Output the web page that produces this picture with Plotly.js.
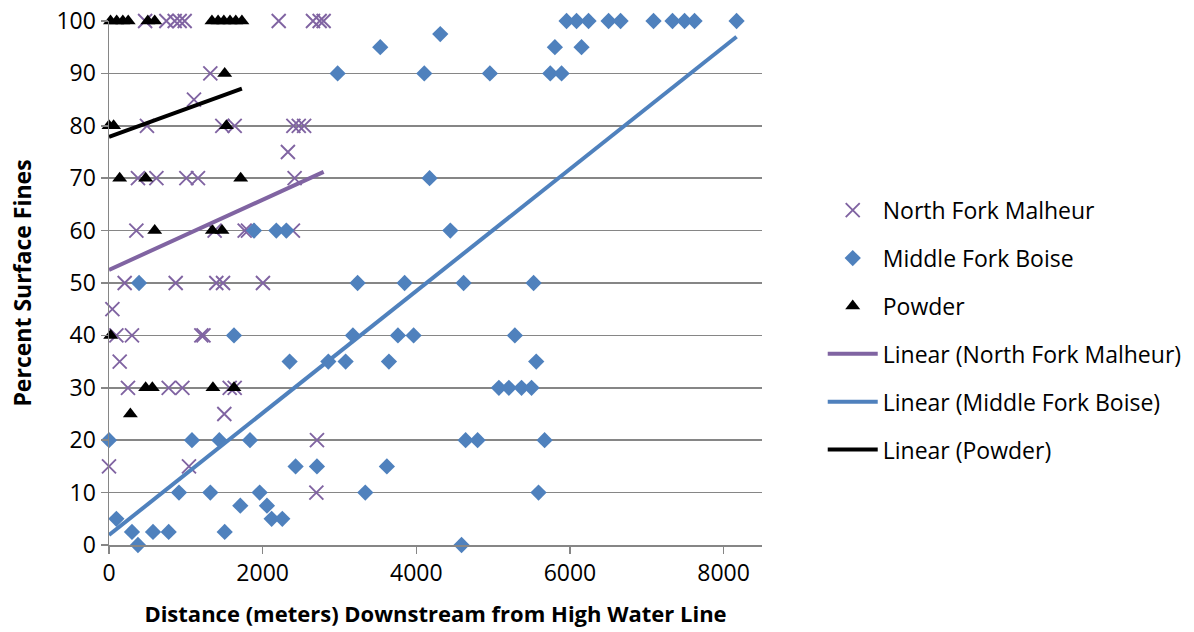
<!DOCTYPE html>
<html>
<head>
<meta charset="utf-8">
<script src="https://cdn.plot.ly/plotly-3.0.1.min.js"></script>
<style>html,body{margin:0;padding:0;background:#fff;}#chart{width:1194px;height:632px;}</style>
</head>
<body>
<div id="chart"></div>
<script>
// North Fork Malheur
const malheurX = [470, 747, 855, 920, 985, 2209, 2655, 2742, 2794,
  1319, 1106,
  494, 1475, 1636, 2400, 2470, 2540,
  2329,
  377, 617, 1007, 1158, 2416,
  356, 1375, 1766, 1809, 2394,
  204, 868, 1397, 1484, 2004,
  44,
  96, 299, 1202, 1230,
  139,
  247, 777, 955, 1571, 1636,
  1501, 2707, 0, 1041, 2699];
const malheurY = [100, 100, 100, 100, 100, 100, 100, 100, 100,
  90, 85,
  80, 80, 80, 80, 80, 80,
  75,
  70, 70, 70, 70, 70,
  60, 60, 60, 60, 60,
  50, 50, 50, 50, 50,
  45,
  40, 40, 40, 40,
  35,
  30, 30, 30, 30, 30,
  25, 20, 15, 15, 10];

// Middle Fork Boise
const boiseX = [5956, 6086, 6242, 6503, 6659, 7088, 7335, 7492, 7622, 8169,
  4312,
  3531, 5804, 6151,
  2976, 4104, 4958, 5744, 5891,
  4173,
  1887, 2178, 2308, 4443,
  391, 3236, 3848, 4616, 5527,
  1627, 3175, 3761, 3965, 5283,
  2351, 2855, 3080, 3644, 5561,
  5075, 5205, 5370, 5500,
  0, 1080, 1436, 1835, 4642, 4798, 5670,
  2429, 2707, 3617,
  911, 1319, 1961, 3336, 5591,
  1709, 2056,
  96, 2117, 2256,
  299, 573, 777, 1506,
  377, 4589];
const boiseY = [100, 100, 100, 100, 100, 100, 100, 100, 100, 100,
  97.5,
  95, 95, 95,
  90, 90, 90, 90, 90,
  70,
  60, 60, 60, 60,
  50, 50, 50, 50, 50,
  40, 40, 40, 40, 40,
  35, 35, 35, 35, 35,
  30, 30, 30, 30,
  20, 20, 20, 20, 20, 20, 20,
  15, 15, 15,
  10, 10, 10, 10, 10,
  7.5, 7.5,
  5, 5, 5,
  2.5, 2.5, 2.5, 2.5,
  0, 0];

// Powder
const powderX = [20, 100, 180, 250, 505, 595, 1340, 1420, 1495, 1575, 1650, 1730,
  1506,
  0, 60, 1528,
  139, 477, 1714,
  595, 1345, 1471,
  22,
  477, 564, 1353, 1627,
  278];
const powderY = [100, 100, 100, 100, 100, 100, 100, 100, 100, 100, 100, 100,
  90,
  80, 80, 80,
  70, 70, 70,
  60, 60, 60,
  40,
  30, 30, 30, 30,
  25];

// Linear trendlines (end points)
const malheurTrendX = [0, 2794];
const malheurTrendY = [52.5, 71.2];
const boiseTrendX = [0, 8169];
const boiseTrendY = [1.9, 97.0];
const powderTrendX = [0, 1730];
const powderTrendY = [77.9, 87.1];

const seriesNames = ['North Fork Malheur', 'Middle Fork Boise', 'Powder',
  'Linear (North Fork Malheur)', 'Linear (Middle Fork Boise)', 'Linear (Powder)'];

const xTicks = [0, 2000, 4000, 6000, 8000];
const yTicks = [0, 10, 20, 30, 40, 50, 60, 70, 80, 90, 100];

const purple = '#8064A2', blue = '#4F81BD', black = '#000000';
const FONT = 'Open Sans, sans-serif';

const traces = [
  {x: malheurX, y: malheurY, name: seriesNames[0], type: 'scatter', mode: 'markers', cliponaxis: false,
   legendgroup: 'a', marker: {symbol: 'x-thin', size: 14, line: {color: purple, width: 1.9}, color: purple}},
  {x: boiseX, y: boiseY, name: seriesNames[1], type: 'scatter', mode: 'markers', cliponaxis: false,
   legendgroup: 'b', marker: {symbol: 'diamond', size: 12.5, color: blue}},
  {x: powderX, y: powderY, name: seriesNames[2], type: 'scatter', mode: 'markers', cliponaxis: false,
   legendgroup: 'c', marker: {symbol: 'triangle-up', size: 13, color: black}},
  {x: malheurTrendX, y: malheurTrendY, name: seriesNames[3], type: 'scatter', mode: 'lines',
   legendgroup: 'd', line: {color: purple, width: 4}},
  {x: boiseTrendX, y: boiseTrendY, name: seriesNames[4], type: 'scatter', mode: 'lines',
   legendgroup: 'e', line: {color: blue, width: 4}},
  {x: powderTrendX, y: powderTrendY, name: seriesNames[5], type: 'scatter', mode: 'lines',
   legendgroup: 'f', line: {color: black, width: 4}}
];

const layout = {
  width: 1194, height: 632,
  margin: {l: 109, r: 432, t: 21, b: 87, autoexpand: false},
  paper_bgcolor: '#fff', plot_bgcolor: '#fff',
  font: {family: FONT, size: 23, color: '#000'},
  showlegend: true,
  legend: {x: 1.093, xanchor: 'left', y: 0.41, yanchor: 'middle', itemwidth: 50,
    traceorder: 'grouped', tracegroupgap: 15, font: {family: FONT, size: 23, color: '#000'},
    bgcolor: 'rgba(0,0,0,0)'},
  xaxis: {range: [0, 8500], tickvals: xTicks, ticktext: xTicks.map(String),
    showgrid: false, zeroline: false, showline: true, linecolor: '#868686', linewidth: 1.5,
    ticks: 'outside', ticklen: 7, tickcolor: '#868686', tickwidth: 1.5,
    tickfont: {family: FONT, size: 23},
    title: {text: '<b>Distance (meters) Downstream from High Water Line</b>', font: {family: FONT, size: 22}, standoff: 19}},
  yaxis: {range: [0, 100], tickvals: yTicks, ticktext: yTicks.map(String),
    showgrid: true, gridcolor: '#868686', gridwidth: 1.5, zeroline: false,
    showline: true, linecolor: '#868686', linewidth: 1.5,
    ticks: 'outside', ticklen: 7, tickcolor: '#868686', tickwidth: 1.5,
    tickfont: {family: FONT, size: 23},
    title: {text: '<b>Percent Surface Fines</b>', font: {family: FONT, size: 23}, standoff: 18}}
};

Plotly.newPlot('chart', traces, layout, {displayModeBar: false, staticPlot: true});
</script>
</body>
</html>
